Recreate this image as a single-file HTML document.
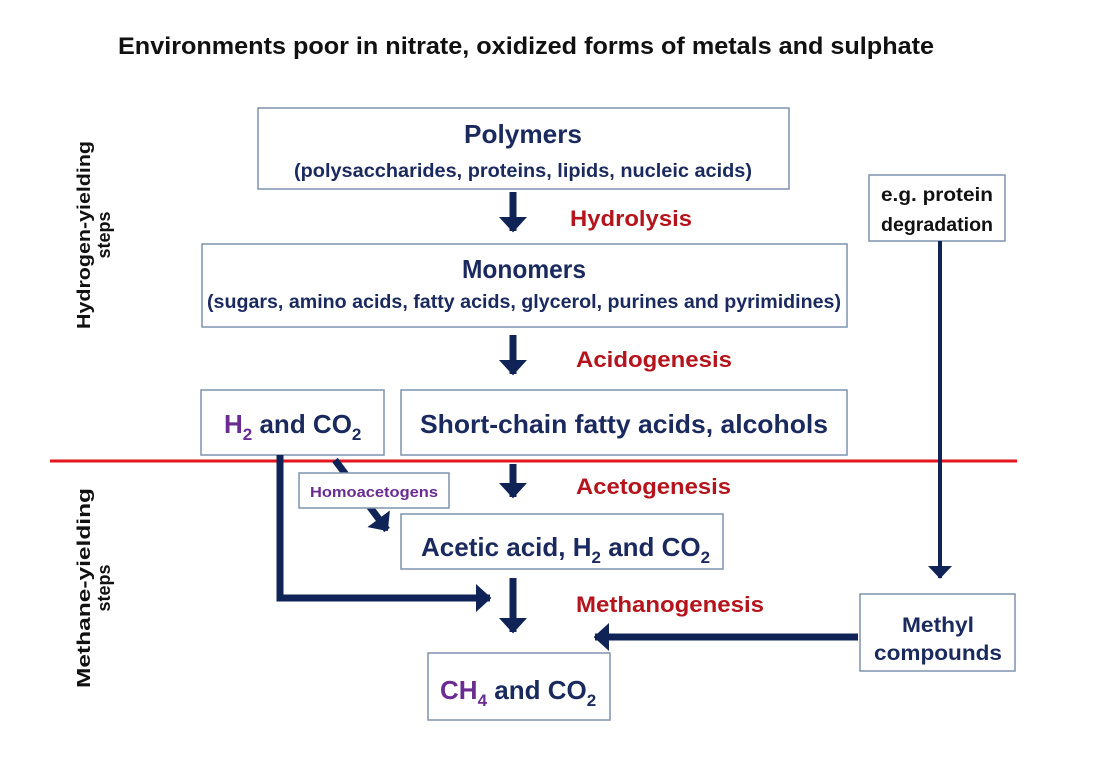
<!DOCTYPE html>
<html><head><meta charset="utf-8"><style>
html,body{margin:0;padding:0;background:#fff;}
svg{display:block;}
text{font-family:"Liberation Sans",Arial,sans-serif;font-weight:bold;}
</style></head><body>
<svg width="1095" height="762" viewBox="0 0 1095 762" xmlns="http://www.w3.org/2000/svg">
<defs>
<marker id="ah" markerWidth="4" markerHeight="4" refX="2" refY="2" orient="auto" markerUnits="strokeWidth"><path d="M0,0 L2.2,2 L0,4 z" fill="#0f2356"/></marker>
<marker id="ah2" markerWidth="6" markerHeight="6" refX="3" refY="3" orient="auto" markerUnits="strokeWidth"><path d="M0,0 L3.2,3 L0,6 z" fill="#0f2356"/></marker>
</defs>
<text x="526" y="54" font-size="24" fill="#111" text-anchor="middle" textLength="816" lengthAdjust="spacingAndGlyphs">Environments poor in nitrate, oxidized forms of metals and sulphate</text>

<g fill="#fff" stroke="#7f93ad" stroke-width="1.5">
<rect x="258" y="108" width="531" height="81"/>
<rect x="869" y="175" width="136" height="66"/>
<rect x="202" y="244" width="645" height="83"/>
<rect x="201" y="390" width="183" height="65"/>
<rect x="401" y="390" width="446" height="65"/>
<rect x="428" y="653" width="182" height="67"/>
<rect x="860" y="594" width="155" height="77"/>
</g>

<line x1="50" y1="461" x2="1017" y2="461" stroke="#e3161d" stroke-width="3"/>

<g stroke="#0f2356" stroke-width="7" fill="none">
<line x1="513" y1="192" x2="513" y2="231" marker-end="url(#ah)"/>
<line x1="513" y1="335" x2="513" y2="374" marker-end="url(#ah)"/>
<line x1="513" y1="464" x2="513" y2="497" marker-end="url(#ah)"/>
<line x1="513" y1="578" x2="513" y2="632" marker-end="url(#ah)"/>
<polyline points="280,455 280,598 490,598" marker-end="url(#ah)"/>
<line x1="335" y1="460" x2="387" y2="530" marker-end="url(#ah)"/>
<line x1="858" y1="637" x2="595" y2="637" marker-end="url(#ah)"/>
<line x1="940" y1="241" x2="940" y2="578" stroke-width="4" marker-end="url(#ah2)"/>
</g>

<rect x="299" y="473" width="150" height="35" fill="#fff" stroke="#7f93ad" stroke-width="1.5"/>
<rect x="401" y="514" width="322" height="55" fill="#fff" stroke="#7f93ad" stroke-width="1.5"/>

<g fill="#1a2a5e" text-anchor="middle">
<text x="523" y="143" font-size="26" textLength="118" lengthAdjust="spacingAndGlyphs">Polymers</text>
<text x="523" y="177" font-size="19" textLength="458" lengthAdjust="spacingAndGlyphs">(polysaccharides, proteins, lipids, nucleic acids)</text>
<text x="937" y="201" font-size="19" fill="#111" textLength="112" lengthAdjust="spacingAndGlyphs">e.g. protein</text>
<text x="937" y="231" font-size="19" fill="#111" textLength="112" lengthAdjust="spacingAndGlyphs">degradation</text>
<text x="524" y="278" font-size="26" textLength="124" lengthAdjust="spacingAndGlyphs">Monomers</text>
<text x="524" y="308" font-size="19" textLength="634" lengthAdjust="spacingAndGlyphs">(sugars, amino acids, fatty acids, glycerol, purines and pyrimidines)</text>
<text x="624" y="433" font-size="26" textLength="408" lengthAdjust="spacingAndGlyphs">Short-chain fatty acids, alcohols</text>
<text x="938" y="632" font-size="21" textLength="72" lengthAdjust="spacingAndGlyphs">Methyl</text>
<text x="938" y="660" font-size="21" textLength="128" lengthAdjust="spacingAndGlyphs">compounds</text>
</g>

<text x="224" y="433" font-size="26" fill="#1a2a5e"><tspan fill="#6a2b93">H</tspan><tspan fill="#6a2b93" font-size="17" dy="7">2</tspan><tspan dy="-7"> and CO</tspan><tspan font-size="17" dy="7">2</tspan></text>
<text x="421" y="556" font-size="26" fill="#1a2a5e">Acetic acid, H<tspan font-size="17" dy="7">2</tspan><tspan dy="-7"> and CO</tspan><tspan font-size="17" dy="7">2</tspan></text>
<text x="440" y="699" font-size="26" fill="#1a2a5e"><tspan fill="#6a2b93">CH</tspan><tspan fill="#6a2b93" font-size="17" dy="7">4</tspan><tspan dy="-7"> and CO</tspan><tspan font-size="17" dy="7">2</tspan></text>
<text x="374" y="497" font-size="15" fill="#6a2b93" text-anchor="middle" textLength="128" lengthAdjust="spacingAndGlyphs">Homoacetogens</text>

<g fill="#b5141c" font-size="22">
<text x="570" y="226" textLength="122" lengthAdjust="spacingAndGlyphs">Hydrolysis</text>
<text x="576" y="367" textLength="156" lengthAdjust="spacingAndGlyphs">Acidogenesis</text>
<text x="576" y="494" textLength="155" lengthAdjust="spacingAndGlyphs">Acetogenesis</text>
<text x="576" y="612" textLength="188" lengthAdjust="spacingAndGlyphs">Methanogenesis</text>
</g>

<g fill="#111" font-size="18" text-anchor="middle">
<text transform="translate(90,235) rotate(-90)" textLength="188" lengthAdjust="spacingAndGlyphs">Hydrogen-yielding</text>
<text transform="translate(110,235) rotate(-90)">steps</text>
<text transform="translate(90,588) rotate(-90)" textLength="200" lengthAdjust="spacingAndGlyphs">Methane-yielding</text>
<text transform="translate(110,588) rotate(-90)">steps</text>
</g>
</svg>
</body></html>
